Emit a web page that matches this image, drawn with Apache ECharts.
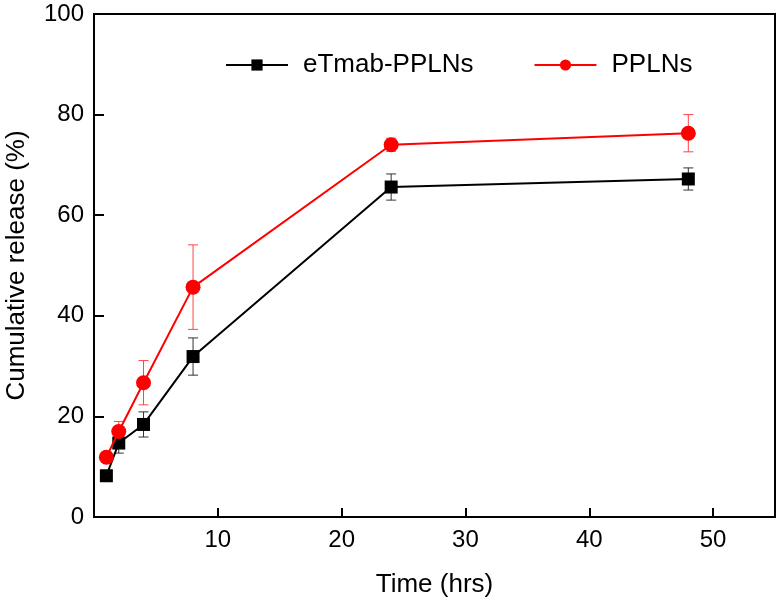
<!DOCTYPE html>
<html>
<head>
<meta charset="utf-8">
<script src="https://cdn.jsdelivr.net/npm/echarts@6/dist/echarts.min.js"></script>
<style>html,body{margin:0;padding:0;background:#fff}#c{width:780px;height:601px}</style>
</head>
<body>
<div id="c"></div>
<script>
const time = [1, 2, 4, 8, 24, 48];
const etmab = [8.2, 14.7, 18.4, 31.9, 65.6, 67.2];
const etmabErr = [0.8, 2.0, 2.5, 3.7, 2.6, 2.2];
const ppln = [11.9, 17.0, 26.7, 45.7, 74.0, 76.3];
const pplnErr = [0.8, 2.0, 4.4, 8.4, 1.3, 3.7];
const xTicks = [10, 20, 30, 40, 50];
const yTicks = [0, 20, 40, 60, 80, 100];

const font = 'Liberation Sans, Arial, sans-serif';
const chart = echarts.init(document.getElementById('c'));

function errData(vals, errs) {
  return time.map((t, i) => [t, vals[i] - errs[i], vals[i] + errs[i]]);
}
function errRender(color) {
  return function (params, api) {
    const x = api.value(0);
    const lo = api.coord([x, api.value(1)]);
    const hi = api.coord([x, api.value(2)]);
    const w = 5;
    const style = { stroke: color, lineWidth: 1 };
    return {
      type: 'group',
      children: [
        { type: 'line', shape: { x1: lo[0], y1: lo[1], x2: hi[0], y2: hi[1] }, style },
        { type: 'line', shape: { x1: lo[0] - w, y1: lo[1], x2: lo[0] + w, y2: lo[1] }, style },
        { type: 'line', shape: { x1: hi[0] - w, y1: hi[1], x2: hi[0] + w, y2: hi[1] }, style }
      ]
    };
  };
}

chart.setOption({
  animation: false,
  backgroundColor: '#fff',
  grid: { left: 94, right: 5, top: 14, bottom: 84, containLabel: false, outerBoundsMode: 'none',
    show: true, borderColor: '#000', borderWidth: 2, backgroundColor: 'transparent' },
  legend: {
    data: ['eTmab-PPLNs', 'PPLNs'],
    left: 220, top: 47,
    itemWidth: 62, itemHeight: 14, itemGap: 60,
    textStyle: { fontFamily: font, fontSize: 26, color: '#000', padding: [0, 0, 0, 10] }
  },
  xAxis: {
    type: 'value', min: 0, max: 55, interval: 10,
    name: 'Time (hrs)', nameLocation: 'middle', nameGap: 55,
    nameTextStyle: { fontFamily: font, fontSize: 26, color: '#000' },
    axisLine: { show: true, lineStyle: { color: '#000', width: 2 } },
    axisTick: { show: true, inside: true, length: 9, lineStyle: { color: '#000', width: 2 } },
    axisLabel: { fontFamily: font, fontSize: 24, color: '#000', margin: 11,
      formatter: v => xTicks.includes(v) ? String(v) : '' },
    splitLine: { show: false }
  },
  yAxis: {
    type: 'value', min: 0, max: 100, interval: 20,
    name: 'Cumulative release (%)', nameLocation: 'middle', nameGap: 64,
    nameTextStyle: { fontFamily: font, fontSize: 26, color: '#000' },
    axisLine: { show: true, lineStyle: { color: '#000', width: 2 } },
    axisTick: { show: true, inside: true, length: 10, lineStyle: { color: '#000', width: 2 } },
    axisLabel: { fontFamily: font, fontSize: 24, color: '#000', margin: 10,
      formatter: v => yTicks.includes(v) ? String(v) : '' },
    splitLine: { show: false }
  },
  series: [
    { name: 'etmabErr', type: 'custom', data: errData(etmab, etmabErr), renderItem: errRender('#333'), z: 1, encode: { x: 0, y: [1, 2] } },
    { name: 'pplnErr', type: 'custom', data: errData(ppln, pplnErr), renderItem: errRender('#f44'), z: 1, encode: { x: 0, y: [1, 2] } },
    { name: 'eTmab-PPLNs', type: 'line', data: time.map((t, i) => [t, etmab[i]]),
      symbol: 'rect', symbolSize: 13, lineStyle: { color: '#000', width: 2 },
      itemStyle: { color: '#000' }, z: 3 },
    { name: 'PPLNs', type: 'line', data: time.map((t, i) => [t, ppln[i]]),
      symbol: 'circle', symbolSize: 15, lineStyle: { color: '#f00', width: 2 },
      itemStyle: { color: '#f00' }, z: 4 }
  ]
});
</script>
</body>
</html>
